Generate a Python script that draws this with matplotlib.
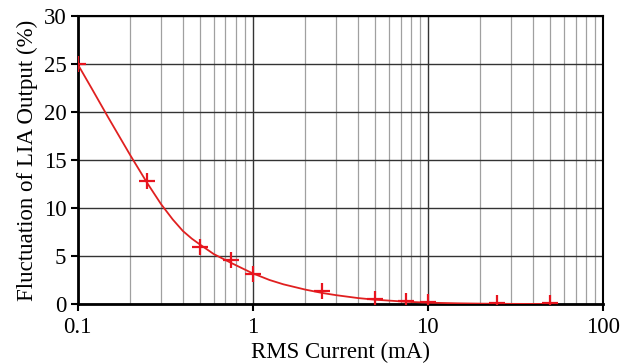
import numpy as np
import matplotlib.pyplot as plt

plt.rcParams['font.family'] = ['Liberation Serif', 'DejaVu Serif']

# measured points
current = [0.1, 0.25, 0.5, 0.75, 1, 2.5, 5, 7.5, 10, 25, 50]
fluct = [25, 12.8, 5.9, 4.6, 3.1, 1.4, 0.5, 0.35, 0.2, 0.1, 0.1]

# fitted curve
fit_x = [0.1, 0.12, 0.15, 0.2, 0.25, 0.3, 0.35, 0.4, 0.45, 0.5, 0.6, 0.75, 0.9, 1,
         1.25, 1.5, 2, 2.5, 3, 4, 5, 7.5, 10, 15, 20, 30, 55]
fit_y = [25, 22.5, 19.4, 15.5, 12.6, 10.4, 8.8, 7.6, 6.8, 6.2, 5.2, 4.3, 3.6, 3.2,
         2.5, 2.05, 1.5, 1.15, 0.92, 0.62, 0.45, 0.24, 0.14, 0.07, 0.04, 0.015, 0.0]

fig = plt.figure(figsize=(6.23, 3.63), dpi=100)
ax = fig.add_axes([0.1244, 0.1625, 0.843, 0.794])

ax.plot(fit_x, fit_y, color='#e02020', lw=1.3, zorder=3, solid_joinstyle='round')
ax.plot(current, fluct, ls='none', marker='+', color='#e8141e', ms=11, mew=1.6, zorder=4)

ax.set_xscale('log')
ax.set_xlim(0.1, 100)
ax.set_ylim(0, 30)
ax.set_yticks([0, 5, 10, 15, 20, 25, 30])
ax.set_xticks([0.1, 1, 10, 100])
ax.set_xticklabels(['0.1', '1', '10', '100'])

ax.grid(True, which='major', color='#333333', lw=1.0)
ax.grid(True, which='minor', axis='x', color='#a0a0a0', lw=0.9)
ax.set_axisbelow(True)

for s in ax.spines.values():
    s.set_color('black')
    s.set_linewidth(1.5)
ax.spines['left'].set_linewidth(2)
ax.spines['bottom'].set_linewidth(2)

ax.tick_params(which='major', direction='out', length=5, width=1.5, labelsize=16.5)
ax.tick_params(axis='x', pad=4)
ax.tick_params(axis='y', pad=3)
ax.tick_params(which='minor', length=0)

ax.set_xlabel('RMS Current (mA)', fontsize=16.5, labelpad=3)
ax.set_ylabel('Fluctuation of LIA Output (%)', fontsize=16.5, labelpad=4)

fig.savefig('out.png', dpi=100)
